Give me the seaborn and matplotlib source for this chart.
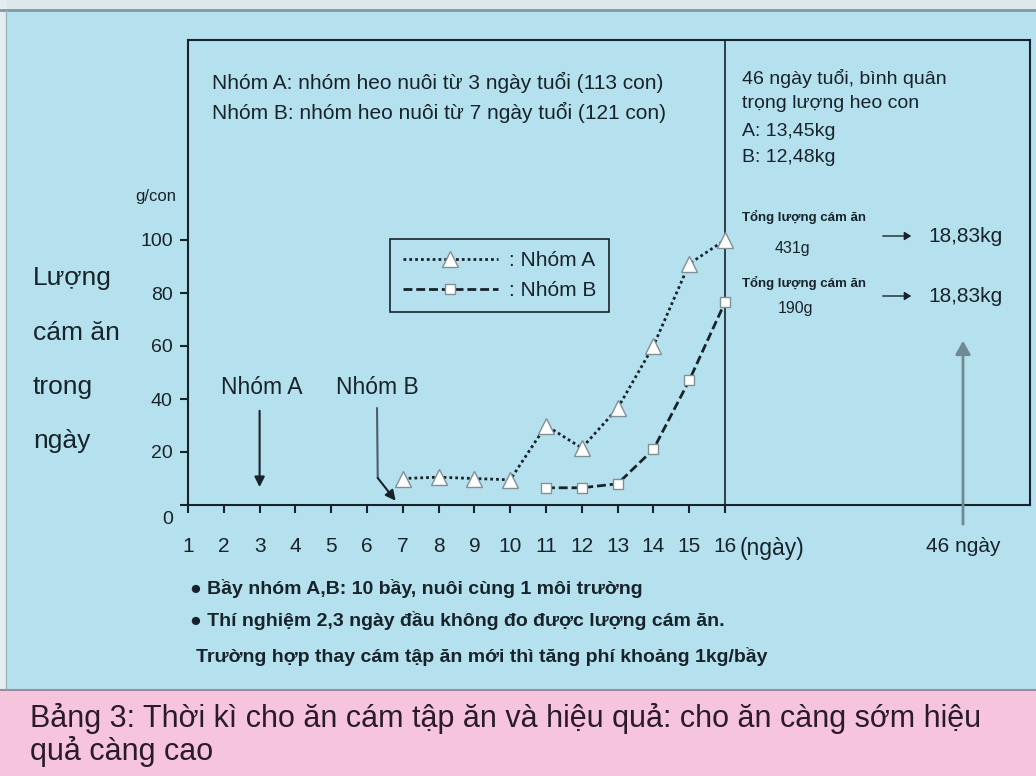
import matplotlib
matplotlib.use("Agg")
import matplotlib.pyplot as plt
import matplotlib.transforms as mtransforms
from matplotlib.patches import Rectangle, FancyArrowPatch
from matplotlib.lines import Line2D
import pandas as pd
import seaborn as sns

# values (g/con per day)
days_a = [7, 8, 9, 10, 11, 12, 13, 14, 15, 16]
feed_a = [10, 10.5, 10, 9.5, 30, 21.5, 36.5, 60, 91, 100]
days_b = [11, 12, 13, 14, 15, 16]
feed_b = [6.5, 6.5, 8, 21, 47, 76.5]
groups = ["Nhóm A", "Nhóm B"]
x_ticks = list(range(1, 17))
y_ticks = [0, 20, 40, 60, 80, 100]

W, H = 1036, 776
BLUE = "#b5e1ee"
PINK = "#f6c4dd"
INK = "#17232b"
FONT = ["Liberation Sans", "DejaVu Sans"]

sns.set_style("ticks")
plt.rcParams["font.family"] = FONT
plt.rcParams["text.color"] = INK

df = pd.concat([
    pd.DataFrame({"day": days_a, "feed": feed_a, "group": groups[0]}),
    pd.DataFrame({"day": days_b, "feed": feed_b, "group": groups[1]}),
])


def fp(x, y):
    # pixel position (from top-left) -> figure fraction
    return x / W, 1 - y / H


fig = plt.figure(figsize=(W / 100, H / 100), dpi=100, facecolor=BLUE)

# frame strips and caption band
fig.patches.append(Rectangle((0, 1 - 10 / H), 1, 10 / H, transform=fig.transFigure,
                             color="#dde8ec", zorder=0))
fig.patches.append(Rectangle((0, 0), 6 / W, 1, transform=fig.transFigure,
                             color="#e4edf0", zorder=0))
fig.patches.append(Rectangle((0, 0), 1, (H - 690) / H, transform=fig.transFigure,
                             color=PINK, zorder=0))
fig.add_artist(Line2D([0, 1], [1 - 10 / H] * 2, color="#7e9ba5", lw=2))
fig.add_artist(Line2D([6 / W] * 2, [(H - 690) / H, 1 - 10 / H], color="#9db4bb", lw=1))
fig.add_artist(Line2D([0, 1], [(H - 690) / H] * 2, color="#9c8e9e", lw=1.5))

ax = fig.add_axes([188 / W, 1 - 505 / H, (1030 - 188) / W, (505 - 40) / H])
ax.set_facecolor(BLUE)

sns.lineplot(data=df, x="day", y="feed", hue="group", style="group",
             palette={g: INK for g in groups},
             markers={groups[0]: "^", groups[1]: "s"},
             dashes={groups[0]: (1, 1.1), groups[1]: (3.2, 1.4)},
             linewidth=2, legend=False, ax=ax, zorder=3)
for line, ms in zip(ax.lines, [11, 7.5]):
    line.set_markerfacecolor("white")
    line.set_markeredgecolor("#7f9097")
    line.set_markeredgewidth(1)
    line.set_markersize(ms)

ax.set_xlim(1, 1 + (1030 - 188) / 35.8)
ax.set_ylim(0, (505 - 40) / 2.65)
ax.set_xticks(x_ticks)
ax.set_xticklabels([str(t) for t in x_ticks])
ax.set_yticks(y_ticks)
ax.set_yticklabels([str(t) for t in y_ticks])
ax.set_xlabel("")
ax.set_ylabel("")
for s in ax.spines.values():
    s.set_visible(True)
    s.set_color(INK)
    s.set_linewidth(1.5)
ax.tick_params(axis="x", direction="out", length=6, width=1.5, pad=17,
               labelsize=15, colors=INK)
ax.tick_params(axis="y", direction="out", length=6, width=1.5, pad=5,
               labelsize=14, colors=INK)
zero_lbl = ax.get_yticklabels()[0]
zero_lbl.set_transform(zero_lbl.get_transform() +
                       mtransforms.ScaledTranslation(0, -9 / 72, fig.dpi_scale_trans))

# divider at day 16
ax.plot([16, 16], [-2.7, ax.get_ylim()[1]], color=INK, lw=1.2, clip_on=False)

# legend
handles = [
    Line2D([], [], color=INK, lw=2, dashes=(1, 1.1), marker="^", ms=11,
           mfc="white", mec="#7f9097", mew=1),
    Line2D([], [], color=INK, lw=2, dashes=(3.2, 1.4), marker="s", ms=7.5,
           mfc="white", mec="#7f9097", mew=1),
]
leg = ax.legend(handles, [": " + g for g in groups], loc="upper left",
                bbox_to_anchor=fp(390, 239), bbox_transform=fig.transFigure,
                borderaxespad=0, fontsize=15, handlelength=4.6, numpoints=1,
                labelspacing=0.5, borderpad=0.6, handletextpad=0.5,
                fancybox=False, framealpha=1, facecolor=BLUE, edgecolor=INK)
leg.get_frame().set_linewidth(1.2)

# start arrows
ax.text(3.07, 44.5, "Nhóm A", fontsize=16.5, ha="center", va="center")
ax.annotate("", xy=(3, 5.7), xytext=(3, 36.6),
            arrowprops=dict(arrowstyle="-|>,head_length=0.6,head_width=0.3",
                            color=INK, lw=1.5))
ax.text(6.28, 44.5, "Nhóm B", fontsize=16.5, ha="center", va="center")
ax.plot([6.28, 6.3], [36.6, 10.2], color="#4a5e68", lw=1.5)
ax.annotate("", xy=(6.8, 1.6), xytext=(6.3, 10.2),
            arrowprops=dict(arrowstyle="-|>,head_length=0.6,head_width=0.3",
                            color=INK, lw=1.5, shrinkA=0, shrinkB=0))

# texts
t = dict(ha="left", va="center", transform=fig.transFigure)
fig.text(*fp(212, 82), "Nhóm A: nhóm heo nuôi từ 3 ngày tuổi (113 con)", fontsize=15, **t)
fig.text(*fp(212, 112), "Nhóm B: nhóm heo nuôi từ 7 ngày tuổi (121 con)", fontsize=15, **t)
fig.text(*fp(742, 78), "46 ngày tuổi, bình quân", fontsize=14, **t)
fig.text(*fp(742, 104), "trọng lượng heo con", fontsize=14, **t)
fig.text(*fp(742, 131), "A: 13,45kg", fontsize=14, **t)
fig.text(*fp(742, 158), "B: 12,48kg", fontsize=14, **t)
fig.text(*fp(742, 217), "Tổng lượng cám ăn", fontsize=9.5, weight="bold", **t)
fig.text(*fp(775, 248), "431g", fontsize=11.5, **t)
fig.text(*fp(928, 237), "18,83kg", fontsize=15, **t)
fig.text(*fp(742, 283), "Tổng lượng cám ăn", fontsize=9.5, weight="bold", **t)
fig.text(*fp(778, 309), "190g", fontsize=11.5, **t)
fig.text(*fp(928, 297), "18,83kg", fontsize=15, **t)
for yy in [236, 296]:
    fig.add_artist(FancyArrowPatch(
        fp(880, yy), fp(914, yy), transform=fig.transFigure,
        arrowstyle="-|>,head_length=4,head_width=2.5", color=INK, lw=1))

fig.add_artist(FancyArrowPatch(
    fp(963, 527), fp(963, 338), transform=fig.transFigure,
    arrowstyle="-|>,head_length=8,head_width=4.5", color="#6f8a94", lw=2))
fig.text(*fp(963, 546), "46 ngày", fontsize=15, ha="center", va="center")
fig.text(*fp(740, 549), "(ngày)", fontsize=16.5, **t)

fig.text(*fp(135, 197), "g/con", fontsize=12, **t)
for yy, word in zip([278, 333, 387, 441], ["Lượng", "cám ăn", "trong", "ngày"]):
    fig.text(*fp(33, yy), word, fontsize=19, **t)

fig.text(*fp(190, 588), "● Bầy nhóm A,B: 10 bầy, nuôi cùng 1 môi trường",
         fontsize=14, weight="bold", **t)
fig.text(*fp(190, 620), "● Thí nghiệm 2,3 ngày đầu không đo được lượng cám ăn.",
         fontsize=14, weight="bold", **t)
fig.text(*fp(196, 656), "Trường hợp thay cám tập ăn mới thì tăng phí khoảng 1kg/bầy",
         fontsize=14, weight="bold", **t)

fig.text(*fp(30, 718), "Bảng 3: Thời kì cho ăn cám tập ăn và hiệu quả: cho ăn càng sớm hiệu",
         fontsize=22, color="#2a1b28", **t)
fig.text(*fp(30, 751), "quả càng cao", fontsize=22, color="#2a1b28", **t)

fig.savefig("out.png", dpi=100, facecolor=fig.get_facecolor())
